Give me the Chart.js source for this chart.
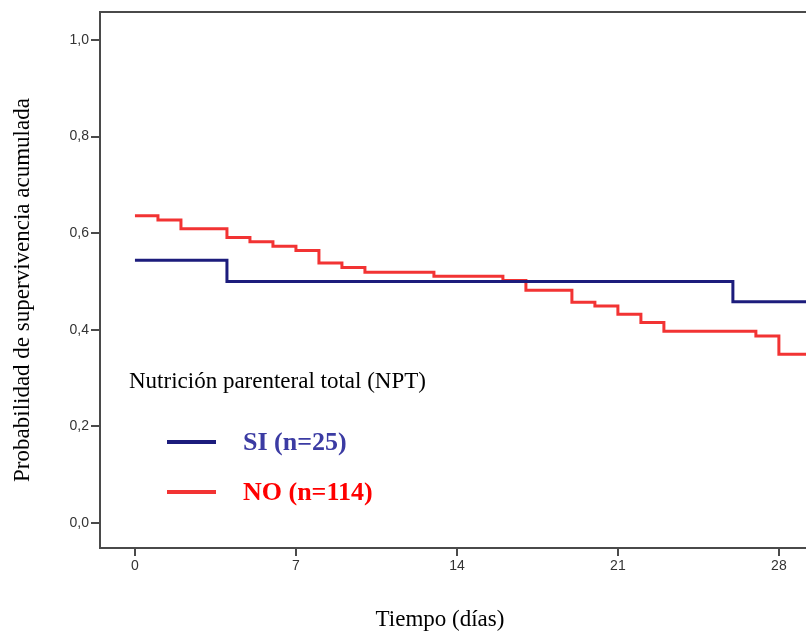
<!DOCTYPE html>
<html>
<head>
<meta charset="utf-8">
<script src="https://cdn.jsdelivr.net/npm/chart.js@4"></script>
<style>
  html, body { margin: 0; padding: 0; background: #fff; overflow: hidden; }
  #wrap { width: 812px; height: 634px; }
</style>
</head>
<body>
<div id="wrap"><canvas id="chart" width="812" height="634"></canvas></div>
<script>
// Datos (Kaplan-Meier)
const tiemposSI = [0, 4, 26, 30];
const supervSI = [0.544, 0.500, 0.458, 0.458];

const tiemposNO = [0, 1, 2, 4, 5, 6, 7, 8, 9, 10, 13, 16, 17, 19, 20, 21, 22, 23, 27, 28, 30];
const supervNO = [0.636, 0.627, 0.609, 0.591, 0.582, 0.573, 0.564, 0.538, 0.529, 0.519, 0.511,
                  0.502, 0.482, 0.457, 0.449, 0.432, 0.415, 0.397, 0.387, 0.349, 0.349];

const etiquetasSerie = ['SI (n=25)', 'NO (n=114)'];
const tituloLeyenda = 'Nutrición parenteral total (NPT)';
const ticksX = [0, 7, 14, 21, 28];
const ticksY = [0, 0.2, 0.4, 0.6, 0.8, 1.0];

const colorSI = '#1c1c7c';
const colorNO = '#f23333';
const colorTextoSI = '#3b3ba3';
const colorTextoNO = '#ff0000';
const colorEje = '#4a4a4a';
const serif = '"Liberation Serif", "Times New Roman", serif';

function puntos(t, s) {
    let out = [];
    for (let i = 0; i < t.length; i++) out.push({ x: t[i], y: s[i] });
    return out;
}

// marco y leyenda dibujados a mano
const extras = {
    id: 'extras',
    afterDraw(chart) {
        const ctx = chart.ctx;
        const a = chart.chartArea;
        ctx.save();
        ctx.strokeStyle = colorEje;
        ctx.lineWidth = 2;
        ctx.strokeRect(a.left, a.top, a.right - a.left, a.bottom - a.top);

        // titulos de ejes
        ctx.fillStyle = '#000';
        ctx.font = '23px ' + serif;
        ctx.textAlign = 'center';
        ctx.textBaseline = 'middle';
        ctx.fillText('Tiempo (días)', 440, 620);
        ctx.save();
        ctx.translate(23, 290);
        ctx.rotate(-Math.PI / 2);
        ctx.fillText('Probabilidad de supervivencia acumulada', 0, 0);
        ctx.restore();

        // leyenda
        ctx.textAlign = 'left';
        ctx.fillText(tituloLeyenda, 129, 382);
        const ds = chart.data.datasets;
        const filas = [442, 492];
        const coloresTexto = [colorTextoSI, colorTextoNO];
        ctx.font = 'bold 26px ' + serif;
        for (let i = 0; i < ds.length; i++) {
            ctx.strokeStyle = ds[i].borderColor;
            ctx.lineWidth = 4;
            ctx.beginPath();
            ctx.moveTo(167, filas[i]);
            ctx.lineTo(216, filas[i]);
            ctx.stroke();
            ctx.fillStyle = coloresTexto[i];
            ctx.fillText(ds[i].label, 243, filas[i] + 1);
        }
        ctx.restore();
    }
};

const ctx = document.getElementById('chart').getContext('2d');
const chart = new Chart(ctx, {
    type: 'line',
    data: {
        datasets: [
            {
                label: etiquetasSerie[0],
                data: puntos(tiemposSI, supervSI),
                borderColor: colorSI,
                borderWidth: 3,
                stepped: 'before',
                pointRadius: 0,
                fill: false
            },
            {
                label: etiquetasSerie[1],
                data: puntos(tiemposNO, supervNO),
                borderColor: colorNO,
                borderWidth: 3,
                stepped: 'before',
                pointRadius: 0,
                fill: false
            }
        ]
    },
    options: {
        responsive: false,
        animation: false,
        layout: { padding: { top: 12, left: 0, right: 0, bottom: 0 } },
        plugins: { legend: { display: false }, tooltip: { enabled: false } },
        scales: {
            x: {
                type: 'linear',
                min: -1.52,
                max: 29.44,
                afterBuildTicks: (s) => { s.ticks = ticksX.map(v => ({ value: v })); },
                afterFit: (s) => { s.height = 86; },
                grid: { drawOnChartArea: false, drawTicks: true, tickLength: 8, color: colorEje, lineWidth: 2 },
                border: { display: true, color: colorEje, width: 2 },
                ticks: {
                    color: '#333',
                    font: { family: 'Arial, "Liberation Sans", sans-serif', size: 14 },
                    padding: 2,
                    maxRotation: 0
                }
            },
            y: {
                type: 'linear',
                min: -0.052,
                max: 1.058,
                afterBuildTicks: (s) => { s.ticks = ticksY.map(v => ({ value: v })); },
                afterFit: (s) => { s.width = 100; },
                grid: { drawOnChartArea: false, drawTicks: true, tickLength: 9, color: colorEje, lineWidth: 2 },
                border: { display: true, color: colorEje, width: 2 },
                ticks: {
                    color: '#333',
                    font: { family: 'Arial, "Liberation Sans", sans-serif', size: 14 },
                    padding: 2,
                    callback: (v) => v.toFixed(1).replace('.', ',')
                }
            }
        }
    },
    plugins: [extras]
});
</script>
</body>
</html>
